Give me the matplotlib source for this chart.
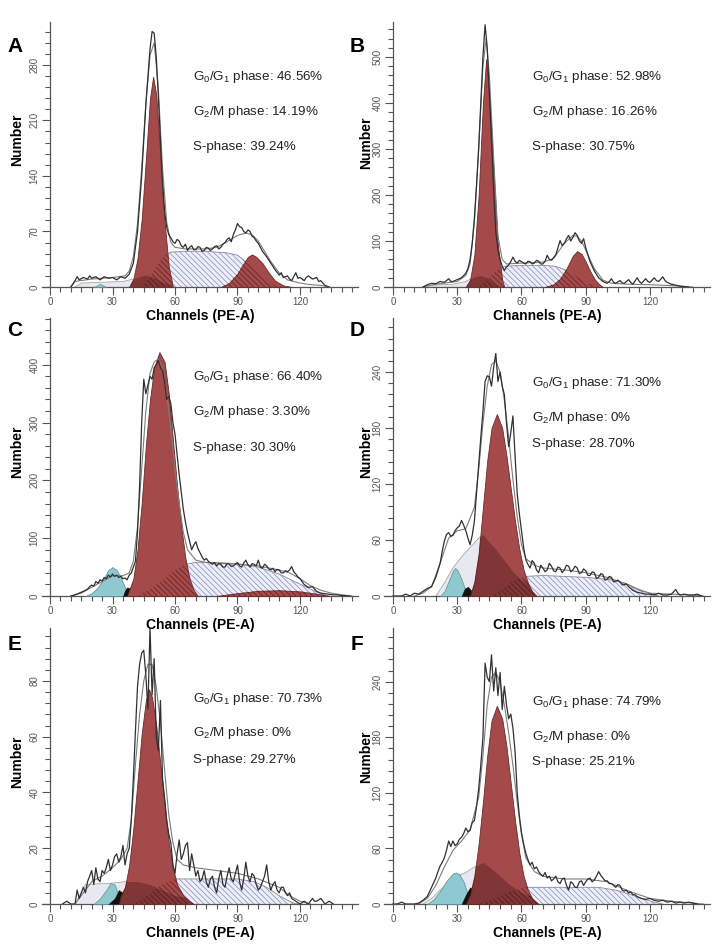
import numpy as np
import matplotlib
matplotlib.use("Agg")
import matplotlib.pyplot as plt
from matplotlib.ticker import MultipleLocator

plt.rcParams['font.family'] = ['Liberation Sans', 'DejaVu Sans']
plt.rcParams['mathtext.fontset'] = 'custom'
plt.rcParams['mathtext.rm'] = 'Liberation Sans'
plt.rcParams['mathtext.default'] = 'rm'
plt.rcParams['hatch.linewidth'] = 0.5

# ---- values: (channel, count) ----
A_HIST = [(10,0),(12,8),(13,13),(14,9),(16,12),(18,10),(19,14),(20,11),(22,13),(24,9),(26,13),(28,11),(30,12),(32,9),(34,13),(36,11),(38,16),(40,30),(42,70),(44,140),(46,230),(47,265),(48,300),(49,322),(50,320),(51,290),(52,240),(54,130),(55,95),(56,75),(57,66),(58,62),(59,57),(60,55),(61,60),(62,58),(63,52),(64,50),(65,54),(66,46),(67,50),(68,52),(69,47),(70,47),(71,51),(72,50),(73,45),(74,46),(75,50),(76,49),(77,46),(78,48),(79,51),(80,52),(81,48),(82,50),(83,54),(84,56),(85,60),(86,62),(87,57),(88,66),(89,72),(90,80),(91,76),(92,75),(93,70),(94,68),(95,72),(96,70),(97,64),(98,62),(99,58),(100,55),(102,45),(104,38),(106,30),(108,22),(110,15),(111,18),(112,12),(114,14),(115,10),(116,8),(117,13),(118,18),(119,11),(120,12),(122,8),(123,12),(124,14),(126,10),(128,12),(129,7),(130,8),(132,2),(134,0)]
A_FIT = [(10,0),(12,7),(20,10),(30,12),(36,14),(38,20),(40,38),(42,80),(44,150),(46,230),(48,292),(50,308),(52,250),(54,150),(56,82),(58,56),(60,50),(65,48),(70,48),(75,48),(80,50),(85,57),(90,65),(94,68),(97,66),(100,58),(103,45),(106,32),(110,18),(114,9),(120,5),(125,3),(130,2),(134,0)]
A_G1 = [(38,0),(40,10),(42,36),(44,85),(46,160),(48,238),(49.5,265),(51,242),(53,165),(55,82),(57,26),(59,0)]
A_G2 = [(82,0),(86,5),(90,17),(93,30),(95,38),(97,41),(99,38),(102,30),(105,18),(108,8),(112,2),(116,0)]
A_S = [(44,0),(48,12),(52,30),(55,40),(58,44),(65,45),(75,45),(85,43),(90,40),(95,30),(100,18),(104,8),(108,2),(112,0)]
A_DEBRIS = [(12,0),(15,5),(25,6),(35,7),(40,10),(44,14),(46,15),(50,12),(55,5),(60,2),(70,0)]
A_CYAN = [(21,0),(24,4),(27,0)]

B_HIST = [(14,0),(16,5),(18,8),(20,7),(22,12),(24,10),(25,14),(26,18),(27,12),(28,12),(30,16),(32,20),(34,30),(35,40),(36,60),(37,95),(38,150),(39,220),(40,300),(41,400),(42,500),(43,570),(44,520),(45,420),(46,320),(47,210),(48,120),(49,80),(50,60),(51,45),(52,36),(53,44),(54,48),(55,55),(56,65),(57,56),(58,52),(59,58),(60,55),(61,52),(62,50),(63,56),(64,55),(65,50),(66,52),(67,58),(68,56),(69,50),(70,50),(71,56),(72,69),(73,60),(74,58),(75,64),(76,70),(77,85),(78,101),(79,90),(80,95),(81,105),(82,112),(83,100),(84,108),(85,118),(86,112),(87,100),(88,95),(89,105),(90,85),(91,70),(92,55),(94,35),(96,20),(98,12),(100,8),(101,12),(102,18),(103,10),(104,8),(106,14),(107,9),(108,8),(110,16),(111,10),(112,6),(114,20),(115,12),(116,8),(118,18),(119,12),(120,10),(122,20),(123,14),(124,12),(126,22),(127,14),(128,10),(130,6),(132,4),(134,2),(136,1),(138,0)]
B_FIT = [(14,0),(20,6),(30,12),(34,25),(36,50),(38,140),(40,300),(42,480),(43.5,540),(45,460),(47,280),(49,110),(51,60),(53,50),(60,52),(70,54),(75,62),(80,95),(84,112),(86,110),(88,100),(90,80),(94,40),(98,15),(102,8),(110,6),(120,5),(130,3),(136,1),(140,0)]
B_G1 = [(34,0),(36,15),(38,70),(40,200),(42,400),(43.5,495),(45,420),(47,250),(49,90),(51,15),(52,0)]
B_G2 = [(71,0),(75,6),(78,18),(81,40),(84,68),(86,78),(88,72),(90,55),(92,35),(94,18),(96,7),(98,0)]
B_S = [(40,0),(44,15),(48,35),(52,45),(60,47),(70,47),(76,45),(80,38),(84,28),(88,16),(92,6),(96,0)]
B_DEBRIS = [(14,0),(18,4),(28,6),(34,12),(38,22),(41,25),(44,20),(47,8),(50,2),(55,0)]

C_HIST = [(10,0),(12,2),(14,5),(16,8),(18,12),(19,16),(20,19),(21,17),(22,25),(23,22),(24,28),(25,26),(26,32),(27,30),(28,36),(29,33),(30,38),(31,34),(32,36),(33,32),(34,34),(35,30),(36,31),(37,28),(38,36),(39,40),(40,50),(41,60),(42,110),(43,190),(44,300),(45,375),(46,350),(47,365),(48,380),(49,375),(50,395),(51,400),(52,408),(53,395),(54,390),(55,370),(56,340),(57,345),(58,333),(59,300),(60,280),(61,245),(62,210),(63,180),(64,150),(65,128),(66,110),(67,95),(68,80),(69,88),(70,94),(71,82),(72,75),(73,68),(74,62),(75,65),(76,60),(77,57),(78,55),(79,58),(80,52),(81,56),(82,55),(83,50),(84,50),(85,56),(86,55),(87,51),(88,52),(89,55),(90,58),(91,52),(92,50),(93,57),(94,62),(95,54),(96,50),(97,56),(98,55),(99,52),(100,62),(101,50),(102,48),(103,55),(104,52),(105,47),(106,45),(107,48),(108,42),(109,46),(110,45),(111,40),(112,40),(113,44),(114,42),(115,45),(116,51),(117,42),(118,38),(119,33),(120,30),(122,20),(124,15),(126,16),(127,12),(128,8),(130,5),(132,4),(134,3),(136,2),(138,2),(140,1),(144,0)]
C_FIT = [(10,0),(15,5),(20,15),(25,25),(30,35),(35,35),(38,40),(40,60),(42,120),(44,220),(46,320),(48,385),(50,405),(52,410),(54,395),(56,350),(58,290),(60,220),(62,160),(64,110),(66,80),(70,62),(75,58),(80,57),(90,55),(100,52),(110,45),(115,40),(120,30),(125,18),(130,10),(135,5),(140,2),(145,0)]
C_G1 = [(37,0),(40,30),(42,80),(44,160),(46,260),(48,340),(50,395),(52.5,422),(55,405),(57,350),(59,270),(61,190),(63,120),(65,65),(67,30),(69,10),(71,0)]
C_G2 = [(80,0),(90,5),(100,9),(110,10),(120,8),(128,4),(134,0)]
C_S = [(42,0),(48,12),(55,30),(60,45),(65,55),(70,58),(80,58),(90,56),(100,50),(110,38),(118,24),(125,12),(130,4),(134,0)]
C_CYAN = [(17,0),(20,5),(23,15),(26,32),(28,45),(30,50),(32,45),(34,32),(36,15),(38,0)]
C_BLACK = [(35,0),(36,10),(37,15),(38,14),(40,6),(41.5,0)]

D_HIST = [(0,0),(4,0),(6,2),(8,0),(10,3),(12,2),(14,5),(16,8),(18,10),(20,20),(22,35),(23,48),(24,59),(25,66),(26,68),(27,64),(28,65),(29,70),(30,73),(31,75),(32,81),(33,76),(34,70),(35,62),(36,55),(37,65),(38,80),(39,110),(40,140),(41,170),(42,198),(43,230),(44,236),(45,235),(46,225),(47,245),(48,260),(49,230),(50,240),(51,225),(52,216),(53,185),(54,160),(55,175),(56,193),(57,150),(58,110),(59,88),(60,70),(61,52),(62,39),(63,34),(64,30),(65,38),(66,35),(67,28),(68,25),(69,33),(70,30),(71,26),(72,28),(73,35),(74,32),(75,27),(76,26),(77,31),(78,30),(79,25),(80,28),(81,33),(82,32),(83,26),(84,28),(85,32),(86,30),(87,24),(88,25),(89,29),(90,27),(91,22),(92,22),(93,26),(94,25),(95,19),(96,20),(97,24),(98,23),(99,17),(100,18),(101,21),(102,20),(103,15),(104,16),(105,17),(106,15),(107,12),(108,12),(109,13),(110,10),(112,6),(114,4),(116,3),(118,2),(120,2),(122,1),(124,3),(126,1),(128,1),(130,2),(132,7),(133,3),(134,1),(136,2),(138,1),(140,1),(142,2),(144,0)]
D_FIT = [(10,0),(14,3),(18,10),(22,35),(26,62),(30,70),(34,72),(38,95),(40,135),(42,185),(44,225),(46,248),(48,252),(50,240),(52,210),(54,170),(56,125),(58,85),(60,55),(62,40),(66,33),(70,30),(80,28),(90,25),(100,20),(110,12),(115,6),(120,3),(130,2),(140,1),(145,0)]
D_G1 = [(36,0),(38,15),(40,45),(42,95),(44,145),(46,180),(48.5,195),(51,180),(53,150),(55,115),(57,80),(59,50),(61,28),(63,14),(65,5),(67,0)]
D_S = [(46,0),(50,6),(54,12),(58,18),(62,21),(70,22),(80,21),(90,20),(100,18),(108,14),(114,8),(120,3),(124,0)]
D_DEBRIS = [(20,0),(24,14),(28,30),(32,42),(36,52),(40,62),(42,66),(44,60),(48,50),(52,38),(56,26),(60,17),(64,12),(70,10),(80,9),(90,7),(100,5),(110,3),(115,0)]
D_CYAN = [(22,0),(24,5),(26,16),(28,27),(29,30),(30,28),(32,18),(34,5),(35,0)]
D_BLACK = [(32,0),(33.5,8),(35,10),(36.5,6),(38,0)]

E_HIST = [(6,0),(8,1),(10,0),(12,0),(13,5),(14,2),(15,4),(16,6),(17,4),(18,8),(19,10),(20,12),(21,7),(22,13),(23,9),(24,8),(25,12),(26,11),(27,13),(28,16),(29,12),(30,14),(31,17),(32,18),(33,15),(34,17),(35,21),(36,14),(37,18),(38,20),(39,30),(40,45),(41,62),(42,78),(43,86),(44,90),(45,91),(46,82),(47,70),(48,99),(49,75),(50,88),(51,60),(52,55),(53,73),(54,45),(55,38),(56,30),(57,25),(58,22),(59,14),(60,11),(61,18),(62,23),(63,16),(64,18),(65,21),(66,22),(67,12),(68,18),(69,14),(70,10),(71,12),(72,8),(73,9),(74,12),(75,8),(76,6),(77,9),(78,10),(79,6),(80,4),(81,9),(82,12),(83,7),(84,6),(85,10),(86,13),(87,9),(88,8),(89,11),(90,14),(91,8),(92,5),(93,9),(94,15),(95,10),(96,8),(97,11),(98,10),(99,7),(100,5),(101,6),(102,8),(103,10),(104,14),(105,8),(106,5),(107,7),(108,8),(109,5),(110,4),(111,6),(112,6),(113,4),(114,3),(115,4),(116,2),(118,1),(120,0),(122,1),(124,0),(126,2),(127,1),(128,1),(130,2),(131,1),(132,0),(134,1),(136,0)]
E_FIT = [(12,0),(16,4),(20,8),(25,10),(30,13),(34,16),(37,20),(39,30),(41,50),(43,68),(45,80),(47,86),(49,86),(51,78),(53,65),(55,48),(57,32),(59,22),(61,16),(64,14),(70,13),(80,12),(90,11),(100,9),(110,6),(115,3),(120,1),(125,0)]
E_G1 = [(33,0),(34,3),(36,6),(38,14),(40,27),(42,44),(44,61),(46,73),(47.5,77),(49,74),(51,64),(53,50),(55,36),(57,22),(59,13),(61,7),(64,3),(67,1),(69,0)]
E_S = [(40,0),(45,2),(50,5),(55,7.5),(60,9),(70,9),(90,9),(98,8),(104,6),(110,3),(115,1),(118,0)]
E_DEBRIS = [(12,0),(15,4),(17,7),(30,7.5),(36,8),(42,8),(48,7),(54,5),(60,3),(70,2),(90,1.5),(110,1),(120,0)]
E_CYAN = [(21,0),(24,2),(27,5),(29,7.5),(31,7),(33,3),(34,0)]
E_BLACK = [(28,0),(31,2),(33,5),(35,4),(37,2),(40,0)]

F_HIST = [(0,0),(2,0),(4,2),(6,0),(10,0),(12,1),(14,4),(16,8),(18,18),(20,28),(21,35),(22,41),(23,45),(24,50),(25,58),(26,68),(27,62),(28,68),(29,63),(30,65),(31,70),(32,72),(33,76),(34,82),(35,78),(36,80),(37,88),(38,90),(39,105),(40,124),(41,150),(42,180),(43,260),(44,245),(45,240),(46,269),(47,230),(48,255),(49,225),(50,250),(51,210),(52,235),(53,215),(54,200),(55,205),(56,190),(57,165),(58,120),(59,95),(60,77),(61,65),(62,55),(63,48),(64,42),(65,45),(66,38),(67,40),(68,35),(69,32),(70,30),(71,34),(72,28),(73,30),(74,25),(75,27),(76,30),(77,24),(78,22),(79,27),(80,28),(81,20),(82,15),(83,24),(84,22),(85,18),(86,18),(87,24),(88,25),(89,20),(90,24),(91,27),(92,28),(93,24),(94,26),(95,30),(96,35),(97,31),(98,28),(99,25),(100,25),(101,22),(102,22),(103,20),(104,18),(105,21),(106,20),(107,15),(108,14),(109,15),(110,12),(111,13),(112,10),(113,10),(114,8),(116,6),(118,5),(120,6),(122,4),(124,3),(126,4),(128,2),(130,3),(132,1),(134,2),(136,1),(138,2),(140,1),(142,0)]
F_FIT = [(12,0),(16,6),(20,20),(24,40),(28,58),(32,68),(36,80),(40,115),(42,160),(44,215),(46,245),(48,250),(50,240),(52,215),(54,185),(56,150),(58,110),(60,75),(62,50),(66,35),(70,30),(80,27),(90,27),(100,24),(110,14),(120,6),(130,3),(140,1),(145,0)]
F_G1 = [(34,0),(36,10),(38,30),(40,65),(42,110),(44,160),(46,198),(48.5,214),(51,200),(53,170),(55,130),(57,90),(59,55),(61,30),(63,15),(65,6),(68,0)]
F_S = [(40,0),(46,5),(52,11),(58,16),(62,18),(80,18),(96,18),(104,15),(110,11),(116,6),(122,2),(126,0)]
F_DEBRIS = [(14,0),(18,6),(22,15),(26,23),(30,30),(34,34),(38,40),(42,45),(46,38),(50,30),(54,22),(58,15),(62,10),(70,7),(80,6),(90,5),(100,4),(110,2),(120,0)]
F_CYAN = [(16,0),(19,5),(22,14),(25,25),(28,33),(29.5,34),(31,32),(33,24),(35,10),(36,0)]
F_BLACK = [(32,0),(34,10),(36,18),(38,15),(41,8),(44,2),(46,0)]

LETTERS = ['A', 'B', 'C', 'D', 'E', 'F']
G0G1 = ['46.56%', '52.98%', '66.40%', '71.30%', '70.73%', '74.79%']
G2M = ['14.19%', '16.26%', '3.30%', '0%', '0%', '0%']
SPHASE = ['39.24%', '30.75%', '30.30%', '28.70%', '29.27%', '25.21%']
Y_TOP = [334, 576, 481, 298, 99, 298]
Y_MAJOR = [70, 100, 100, 60, 20, 60]

W, H = 718, 946
RED = '#a44a4b'
RED_EDGE = '#6b2a2a'


def xy(points):
    a = np.asarray(points, dtype=float)
    return a[:, 0], a[:, 1]


def area(ax, points, **kw):
    x, y = xy(points)
    return ax.fill_between(x, y, 0, **kw)


def draw_panel(ax, p):
    hatch = '\\\\\\\\\\\\'
    if p['debris']:
        area(ax, p['debris'], facecolor='#e8e9f0', linewidth=0, zorder=1)
        ax.plot(*xy(p['debris']), color='#9a9a9a', lw=0.5, zorder=1.2)
    area(ax, p['s'], facecolor='#eceef8', edgecolor='#8589c2', hatch=hatch,
         linewidth=0, zorder=2)
    ax.plot(*xy(p['s']), color='#8a8a99', lw=0.6, zorder=2.2)
    if p['cyan']:
        area(ax, p['cyan'], facecolor='#8ec9d0', edgecolor='#5a8f95', lw=0.5, zorder=3)
    if p['black']:
        area(ax, p['black'], facecolor='#111111', edgecolor='#111111', lw=0.3, zorder=3)

    for key in ('g1', 'g2'):
        if not p[key]:
            continue
        red = area(ax, p[key], facecolor=RED, edgecolor=RED_EDGE, lw=0.6, zorder=4)
        clip = red.get_paths()[0]
        over = area(ax, p['s'], facecolor='none', edgecolor='#5c1e1e', hatch=hatch,
                    linewidth=0, zorder=5)
        over.set_clip_path(clip, ax.transData)
        if p['debris']:
            dark = area(ax, p['debris'], color='#3d1010', alpha=0.35, linewidth=0, zorder=5)
            dark.set_clip_path(clip, ax.transData)

    ax.plot(*xy(p['fit']), color='#7d7d7d', lw=0.8, zorder=6)
    ax.plot(*xy(p['hist']), color='#303030', lw=0.9, zorder=7)

    ax.set_xlim(-4, 148)
    ax.set_ylim(0, p['ytop'])
    ax.patch.set_visible(False)
    for s in ('top', 'right'):
        ax.spines[s].set_visible(False)
    ax.spines['left'].set_position(('data', 0))
    for s in ('left', 'bottom'):
        ax.spines[s].set_color('#555555')
        ax.spines[s].set_linewidth(0.9)
    ax.set_xticks([0, 30, 60, 90, 120])
    ax.xaxis.set_minor_locator(MultipleLocator(5))
    ax.yaxis.set_major_locator(MultipleLocator(p['ymajor']))
    ax.yaxis.set_minor_locator(MultipleLocator(p['ymajor'] / 5))
    ax.tick_params(which='both', direction='out', color='#555555', width=0.8,
                   labelsize=7, labelcolor='#555555', pad=1.5)
    ax.tick_params(which='major', length=6)
    ax.tick_params(which='minor', length=3.5)
    for lab in ax.get_yticklabels():
        lab.set_rotation(90)
        lab.set_va('center')
    ax.set_xlabel('Channels (PE-A)', fontsize=10, fontweight='bold', labelpad=1)


PANELS = [
    dict(hist=A_HIST, fit=A_FIT, g1=A_G1, g2=A_G2, s=A_S, debris=A_DEBRIS, cyan=A_CYAN, black=None),
    dict(hist=B_HIST, fit=B_FIT, g1=B_G1, g2=B_G2, s=B_S, debris=B_DEBRIS, cyan=None, black=None),
    dict(hist=C_HIST, fit=C_FIT, g1=C_G1, g2=C_G2, s=C_S, debris=None, cyan=C_CYAN, black=C_BLACK),
    dict(hist=D_HIST, fit=D_FIT, g1=D_G1, g2=None, s=D_S, debris=D_DEBRIS, cyan=D_CYAN, black=D_BLACK),
    dict(hist=E_HIST, fit=E_FIT, g1=E_G1, g2=None, s=E_S, debris=E_DEBRIS, cyan=E_CYAN, black=E_BLACK),
    dict(hist=F_HIST, fit=F_FIT, g1=F_G1, g2=None, s=F_S, debris=F_DEBRIS, cyan=F_CYAN, black=F_BLACK),
]

# layout in pixels
COL_X = [(41.7, 316.6), (384.4, 325.6)]
ROW_Y = [(22, 265), (318, 278), (628, 276)]
LETTER_POS = [(15, 47), (357, 47), (15, 330), (357, 330), (15, 645), (357, 645)]
YLAB_POS = [(17, 140), (366, 143), (17, 452), (366, 452), (17, 762), (366, 757)]
TEXT_X = [193, 532]
TEXT_Y = [(77, 112, 147), (77, 112, 147), (377, 412, 448), (383, 418, 444),
          (699, 733, 760), (702, 737, 762)]

fig = plt.figure(figsize=(W / 100, H / 100), dpi=100)
for i, p in enumerate(PANELS):
    p['ytop'] = Y_TOP[i]
    p['ymajor'] = Y_MAJOR[i]
    col, row = i % 2, i // 2
    x0, w = COL_X[col]
    y0, h = ROW_Y[row]
    ax = fig.add_axes([x0 / W, 1 - (y0 + h) / H, w / W, h / H])
    draw_panel(ax, p)

    lx, ly = LETTER_POS[i]
    fig.text(lx / W, 1 - ly / H, LETTERS[i], fontsize=15, fontweight='bold',
             ha='center', va='center')
    nx, ny = YLAB_POS[i]
    fig.text(nx / W, 1 - ny / H, 'Number', fontsize=10, fontweight='bold',
             rotation=90, ha='center', va='center')
    tx = TEXT_X[col]
    ty = TEXT_Y[i]
    lines = [r'G$_0$/G$_1$ phase: ' + G0G1[i], r'G$_2$/M phase: ' + G2M[i],
             'S-phase: ' + SPHASE[i]]
    for line, yy in zip(lines, ty):
        fig.text(tx / W, 1 - yy / H, line, fontsize=9.6, color='#222222',
                 ha='left', va='center')

fig.savefig('out.png', dpi=100)
